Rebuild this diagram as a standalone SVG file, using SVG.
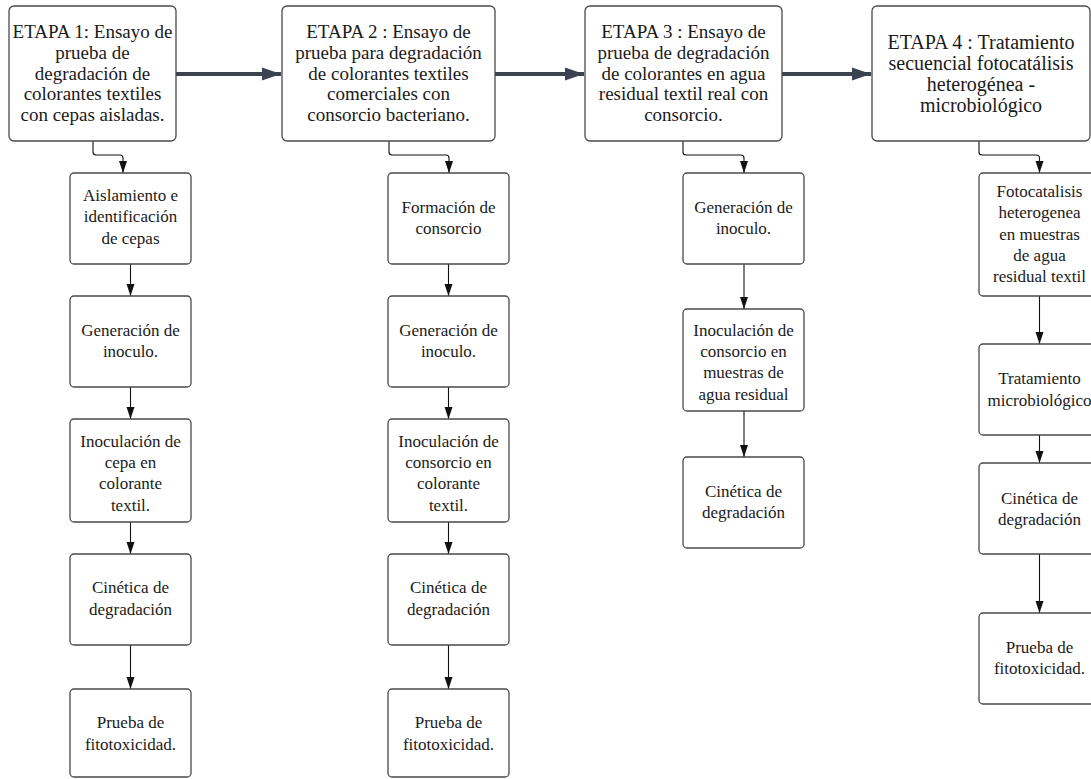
<svg xmlns="http://www.w3.org/2000/svg" width="1091" height="779" viewBox="0 0 1091 779">
<style>
.box{fill:#fff;stroke:#4a4a4a;stroke-width:1.3}
.t{font-family:"Liberation Serif","Times New Roman",serif;fill:#1a1a1a;text-anchor:middle}
.big{font-size:19px}
.sm{font-size:17px}
.thin{fill:none;stroke:#111;stroke-width:1.1}
.thick{fill:none;stroke:#3c4350;stroke-width:4}
</style>
<defs>
<marker id="ah" markerUnits="userSpaceOnUse" markerWidth="12" markerHeight="10" refX="12" refY="5" orient="auto">
<path d="M0,1 L12,5 L0,9 Z" fill="#111"/>
</marker>
<marker id="ahBig" markerUnits="userSpaceOnUse" markerWidth="19" markerHeight="14" refX="19" refY="7" orient="auto">
<path d="M0,0.5 L19,7 L0,13.5 Z" fill="#3c4350"/>
</marker>
</defs>
<rect width="1091" height="779" fill="#fff"/>
<g id="connectors">
<path class="thick" d="M176,74 H281" marker-end="url(#ahBig)"/>
<path class="thick" d="M495,74 H584" marker-end="url(#ahBig)"/>
<path class="thick" d="M782,74 H871" marker-end="url(#ahBig)"/>
<path class="thin" d="M93,141 V152 Q93,155 96,155 H120 Q123,155 123,158 V173" marker-end="url(#ah)"/>
<path class="thin" d="M389,141 V152 Q389,155 392,155 H446 Q449,155 449,158 V173" marker-end="url(#ah)"/>
<path class="thin" d="M683,141 V152 Q683,155 686,155 H741 Q744,155 744,158 V173" marker-end="url(#ah)"/>
<path class="thin" d="M979,141 V152 Q979,155 982,155 H1036 Q1039.5,155 1039.5,158 V173" marker-end="url(#ah)"/>
<path class="thin" d="M130.5,264 V296" marker-end="url(#ah)"/>
<path class="thin" d="M130.5,387 V419" marker-end="url(#ah)"/>
<path class="thin" d="M130.5,522 V554" marker-end="url(#ah)"/>
<path class="thin" d="M130.5,645 V689" marker-end="url(#ah)"/>
<path class="thin" d="M448.5,264 V296" marker-end="url(#ah)"/>
<path class="thin" d="M448.5,387 V419" marker-end="url(#ah)"/>
<path class="thin" d="M448.5,522 V554" marker-end="url(#ah)"/>
<path class="thin" d="M448.5,645 V689" marker-end="url(#ah)"/>
<path class="thin" d="M744,264 V309" marker-end="url(#ah)"/>
<path class="thin" d="M744,411 V457" marker-end="url(#ah)"/>
<path class="thin" d="M1039.5,296 V344" marker-end="url(#ah)"/>
<path class="thin" d="M1039.5,435 V463" marker-end="url(#ah)"/>
<path class="thin" d="M1039.5,554 V613" marker-end="url(#ah)"/>
</g>
<g id="etapa1">
<rect class="box" x="9" y="6" width="167" height="135" rx="5"/>
<text class="t big"><tspan x="92.5" y="38">ETAPA 1: Ensayo de</tspan><tspan x="92.5" y="59">prueba de</tspan><tspan x="92.5" y="80">degradación de</tspan><tspan x="92.5" y="100">colorantes textiles</tspan><tspan x="92.5" y="121">con cepas aisladas.</tspan></text>
</g>
<g id="etapa2">
<rect class="box" x="282" y="6" width="213" height="135" rx="5"/>
<text class="t big"><tspan x="388.5" y="38">ETAPA 2 : Ensayo de</tspan><tspan x="388.5" y="59">prueba para degradación</tspan><tspan x="388.5" y="80">de colorantes textiles</tspan><tspan x="388.5" y="100">comerciales con</tspan><tspan x="388.5" y="121">consorcio bacteriano.</tspan></text>
</g>
<g id="etapa3">
<rect class="box" x="585" y="6" width="197" height="135" rx="5"/>
<text class="t big"><tspan x="683.5" y="38">ETAPA 3 : Ensayo de</tspan><tspan x="683.5" y="59">prueba de degradación</tspan><tspan x="683.5" y="80">de colorantes en agua</tspan><tspan x="683.5" y="100">residual textil real con</tspan><tspan x="683.5" y="121">consorcio.</tspan></text>
</g>
<g id="etapa4">
<rect class="box" x="872" y="6" width="218" height="135" rx="5"/>
<text class="t big" style="font-size:20px"><tspan x="981" y="49">ETAPA 4 : Tratamiento</tspan><tspan x="981" y="70">secuencial fotocatálisis</tspan><tspan x="981" y="91">heterogénea -</tspan><tspan x="981" y="112">microbiológico</tspan></text>
</g>
<g id="c1-aislamiento">
<rect class="box" x="70" y="173" width="121" height="91" rx="4"/>
<text class="t sm"><tspan x="130.5" y="201">Aislamiento e</tspan><tspan x="130.5" y="222">identificación</tspan><tspan x="130.5" y="244">de cepas</tspan></text>
</g>
<g id="c1-generacion">
<rect class="box" x="70" y="296" width="121" height="91" rx="4"/>
<text class="t sm"><tspan x="130.5" y="336">Generación de</tspan><tspan x="130.5" y="357">inoculo.</tspan></text>
</g>
<g id="c1-inoculacion">
<rect class="box" x="70" y="419" width="121" height="103" rx="4"/>
<text class="t sm"><tspan x="130.5" y="447">Inoculación de</tspan><tspan x="130.5" y="468">cepa en</tspan><tspan x="130.5" y="489">colorante</tspan><tspan x="130.5" y="511">textil.</tspan></text>
</g>
<g id="c1-cinetica">
<rect class="box" x="70" y="554" width="121" height="91" rx="4"/>
<text class="t sm"><tspan x="130.5" y="593">Cinética de</tspan><tspan x="130.5" y="615">degradación</tspan></text>
</g>
<g id="c1-prueba">
<rect class="box" x="70" y="689" width="121" height="88" rx="4"/>
<text class="t sm"><tspan x="130.5" y="728">Prueba de</tspan><tspan x="130.5" y="750">fitotoxicidad.</tspan></text>
</g>
<g id="c2-formacion">
<rect class="box" x="388" y="173" width="121" height="91" rx="4"/>
<text class="t sm"><tspan x="448.5" y="213">Formación de</tspan><tspan x="448.5" y="234">consorcio</tspan></text>
</g>
<g id="c2-generacion">
<rect class="box" x="388" y="296" width="121" height="91" rx="4"/>
<text class="t sm"><tspan x="448.5" y="336">Generación de</tspan><tspan x="448.5" y="357">inoculo.</tspan></text>
</g>
<g id="c2-inoculacion">
<rect class="box" x="388" y="419" width="121" height="103" rx="4"/>
<text class="t sm"><tspan x="448.5" y="447">Inoculación de</tspan><tspan x="448.5" y="468">consorcio en</tspan><tspan x="448.5" y="489">colorante</tspan><tspan x="448.5" y="511">textil.</tspan></text>
</g>
<g id="c2-cinetica">
<rect class="box" x="388" y="554" width="121" height="91" rx="4"/>
<text class="t sm"><tspan x="448.5" y="593">Cinética de</tspan><tspan x="448.5" y="615">degradación</tspan></text>
</g>
<g id="c2-prueba">
<rect class="box" x="388" y="689" width="121" height="88" rx="4"/>
<text class="t sm"><tspan x="448.5" y="728">Prueba de</tspan><tspan x="448.5" y="750">fitotoxicidad.</tspan></text>
</g>
<g id="c3-generacion">
<rect class="box" x="683" y="173" width="121" height="91" rx="4"/>
<text class="t sm"><tspan x="743.5" y="213">Generación de</tspan><tspan x="743.5" y="234">inoculo.</tspan></text>
</g>
<g id="c3-inoculacion">
<rect class="box" x="683" y="309" width="121" height="102" rx="4"/>
<text class="t sm"><tspan x="743.5" y="336">Inoculación de</tspan><tspan x="743.5" y="357">consorcio en</tspan><tspan x="743.5" y="378">muestras de</tspan><tspan x="743.5" y="400">agua residual</tspan></text>
</g>
<g id="c3-cinetica">
<rect class="box" x="683" y="457" width="121" height="91" rx="4"/>
<text class="t sm"><tspan x="743.5" y="497">Cinética de</tspan><tspan x="743.5" y="518">degradación</tspan></text>
</g>
<g id="c4-fotocatalisis">
<rect class="box" x="979" y="173" width="121" height="123" rx="4"/>
<text class="t sm"><tspan x="1039.5" y="197">Fotocatalisis</tspan><tspan x="1039.5" y="218">heterogenea</tspan><tspan x="1039.5" y="240">en muestras</tspan><tspan x="1039.5" y="261">de agua</tspan><tspan x="1039.5" y="282">residual textil</tspan></text>
</g>
<g id="c4-tratamiento">
<rect class="box" x="979" y="344" width="121" height="91" rx="4"/>
<text class="t sm"><tspan x="1039.5" y="384">Tratamiento</tspan><tspan x="1039.5" y="406">microbiológico</tspan></text>
</g>
<g id="c4-cinetica">
<rect class="box" x="979" y="463" width="121" height="91" rx="4"/>
<text class="t sm"><tspan x="1039.5" y="504">Cinética de</tspan><tspan x="1039.5" y="525">degradación</tspan></text>
</g>
<g id="c4-prueba">
<rect class="box" x="979" y="613" width="121" height="91" rx="4"/>
<text class="t sm"><tspan x="1039.5" y="653">Prueba de</tspan><tspan x="1039.5" y="674">fitotoxicidad.</tspan></text>
</g>
</svg>
